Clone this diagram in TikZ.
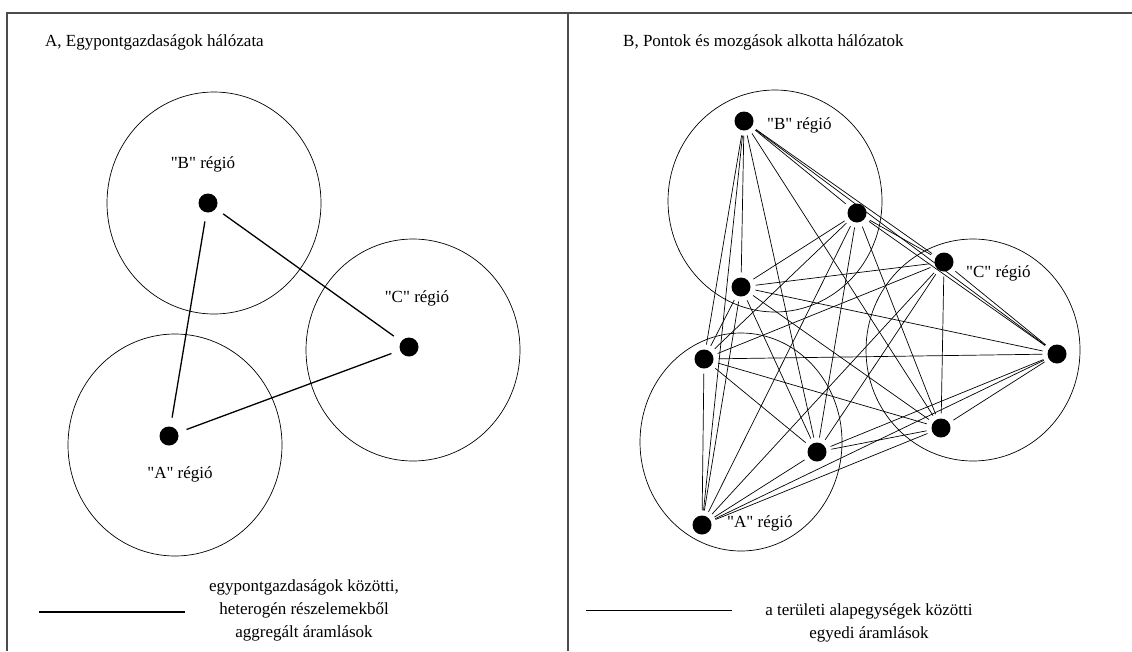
\documentclass[tikz,border=0pt]{standalone}
\usepackage{fontspec}
\setmainfont{Liberation Serif}[Ligatures=TeXOff]
\begin{document}
\begin{tikzpicture}[x=1pt,y=-1pt,
  pont/.style={circle,fill=black,inner sep=0pt,minimum size=19pt},
  regio/.style={line width=0.7pt},
  aram/.style={line width=1.3pt,shorten <=9pt,shorten >=9pt},
  egyedi/.style={line width=0.7pt,shorten <=5pt,shorten >=5pt},
  felirat/.style={font=\fontsize{17}{23}\selectfont,inner sep=0pt,align=center}]
  \useasboundingbox (0,0) rectangle (1132,651);
  % keret
  \draw[line width=1.2pt,color=black!70] (7,651) -- (7,13) -- (1132,13);
  \draw[line width=1.2pt,color=black!70] (568,13) -- (568,651);
  \node[felirat,anchor=west] (cimA) at (45,42) {A, Egypontgazdaságok hálózata};
  \node[felirat,anchor=west] (cimB) at (623,42) {B, Pontok és mozgások alkotta hálózatok};

  % A, egypontgazdasagok
  \draw[regio] (214,203) ellipse [x radius=107pt,y radius=111pt];
  \draw[regio] (413,350) ellipse [x radius=107pt,y radius=111pt];
  \draw[regio] (175,445) ellipse [x radius=107pt,y radius=111pt];
  \node[pont] (pB) at (208,203) {};
  \node[pont] (pC) at (409,347) {};
  \node[pont] (pA) at (169,436) {};
  \node[felirat] (lB) at (203,164) {"B" régió};
  \node[felirat] (lC) at (417,298) {"C" régió};
  \node[felirat] (lA) at (180,474) {"A" régió};
  \draw[aram] (pB) -- (pA);
  \draw[aram] (pB) -- (pC);
  \draw[aram] (pC) -- (pA);

  % B, pontok es mozgasok
  \draw[regio] (775,201) ellipse [x radius=107pt,y radius=111pt];
  \draw[regio] (973,350) ellipse [x radius=107pt,y radius=111pt];
  \draw[regio] (741,442) ellipse [x radius=101pt,y radius=109pt];
  \node[pont] (b1) at (744,121) {};
  \node[pont] (b2) at (857,213) {};
  \node[pont] (b3) at (741,287) {};
  \node[pont] (c1) at (944,262) {};
  \node[pont] (c2) at (1057,354) {};
  \node[pont] (c3) at (941,428) {};
  \node[pont] (a1) at (704,359) {};
  \node[pont] (a2) at (817,452) {};
  \node[pont] (a3) at (702,525) {};
  \foreach \p [count=\i] in {b1,b2,b3,c1,c2,c3,a1,a2,a3}
    \foreach \q [count=\j] in {b1,b2,b3,c1,c2,c3,a1,a2,a3}
      {\ifnum\j>\i \draw[egyedi] (\p) -- (\q); \fi}
  \node[felirat,anchor=west] (lb) at (767,125) {"B" régió};
  \node[felirat,anchor=west] (lc) at (966,273) {"C" régió};
  \node[felirat,anchor=west] (la) at (727,523) {"A" régió};

  % jelmagyarazat
  \coordinate (j1) at (39,612);
  \coordinate (j2) at (185,612);
  \draw[line width=1.3pt] (j1) -- (j2);
  \node[felirat] (jA) at (304,610) {egypontgazdaságok közötti,\\heterogén részelemekből\\aggregált áramlások};
  \coordinate (k1) at (586,610);
  \coordinate (k2) at (732,610);
  \draw[line width=0.7pt] (k1) -- (k2);
  \node[felirat] (jB) at (869,623) {a területi alapegységek közötti\\egyedi áramlások};
\end{tikzpicture}
\end{document}
